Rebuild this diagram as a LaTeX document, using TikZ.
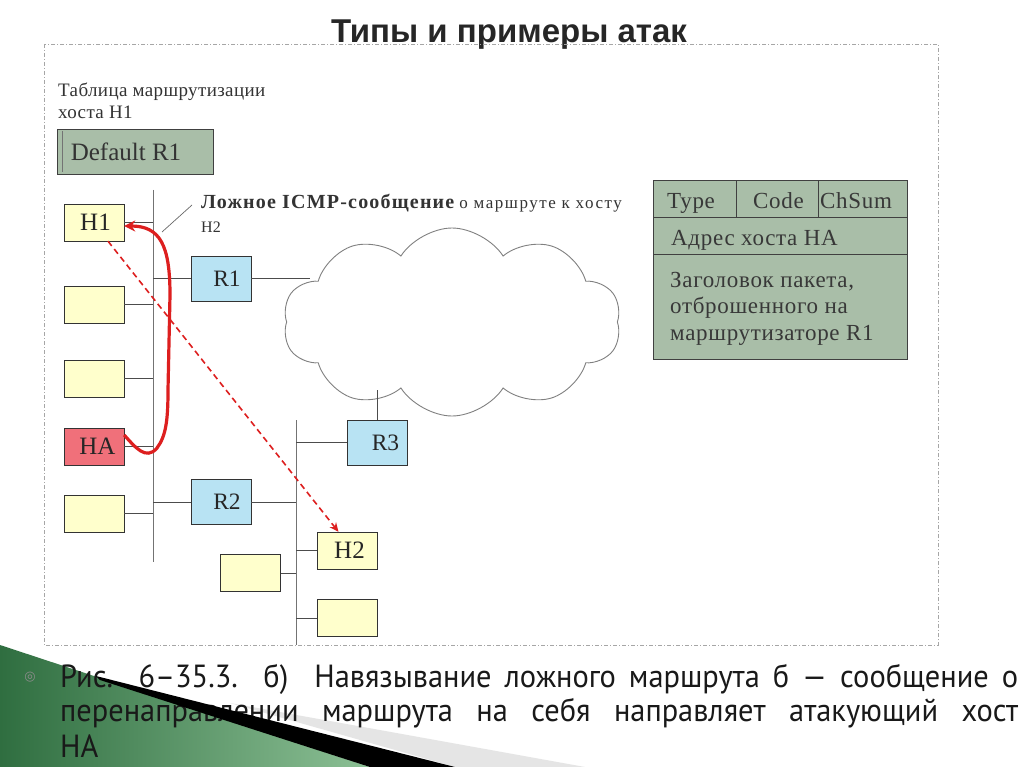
\documentclass[tikz,border=0pt]{standalone}
\usepackage{fontspec}
\setmainfont{Liberation Serif}
\newfontfamily\titlefont{Liberation Sans}
\newfontfamily\capfont[FakeStretch=0.95]{PT Sans}
\newfontfamily\symfont{DejaVu Sans}
\newfontfamily\serifA[LetterSpace=2]{Liberation Serif}
\newfontfamily\serifB[LetterSpace=3]{Liberation Serif}
\newfontfamily\serifC[LetterSpace=6]{Liberation Serif}
\newfontfamily\serifD[LetterSpace=9]{Liberation Serif}
\usetikzlibrary{shapes.symbols,arrows.meta}
\definecolor{hostyellow}{HTML}{FFFFCC}
\definecolor{routerblue}{HTML}{B8E3F3}
\definecolor{hared}{HTML}{F0707A}
\definecolor{tablegreen}{HTML}{A9BEA8}
\definecolor{arrowred}{HTML}{DD1F1F}
\definecolor{greendark}{HTML}{2F6E40}
\definecolor{greenlight}{HTML}{8CC095}
\tikzset{
  host/.style={draw=black!80, fill=hostyellow, minimum width=60pt, minimum height=37pt, inner sep=0pt, font=\fontsize{25}{25}\selectfont, text=black!85},
  router/.style={draw=black!80, fill=routerblue, minimum width=60pt, minimum height=45pt, inner sep=0pt, font=\fontsize{23.5}{23.5}\selectfont, text=black!85},
  link/.style={draw=black!70, line width=0.9pt},
  bus/.style={draw=black!55, line width=1pt},
  cell/.style={draw=black!75, fill=tablegreen, inner sep=0pt},
  celltext/.style={anchor=base west, inner sep=0pt, align=left, font=\serifB\fontsize{23}{26.5}\selectfont, text=black!78},
  frame/.style={draw=black!35, line width=0.8pt, dash pattern=on 4pt off 2pt on 1pt off 2pt},
  redcurve/.style={draw=arrowred, line width=3.2pt, -{Stealth[length=11pt,width=11pt]}},
  reddash/.style={draw=arrowred, line width=1.6pt, dash pattern=on 6pt off 4pt, -{Stealth[length=9pt,width=8pt]}},
  captext/.style={anchor=base west, inner sep=0pt, font=\capfont\fontsize{32}{32}\selectfont, text=black!90}
}
\begin{document}
\begin{tikzpicture}[x=1pt,y=-1pt]
\useasboundingbox (0,0) rectangle (1024,767);
\fill[white] (0,0) rectangle (1024,767);

% title
\node[font=\titlefont\bfseries\fontsize{33}{33}\selectfont, text=black!85, inner sep=0pt] (title) at (509,35) {Типы и примеры атак};

% frame
\draw[frame] (44,44) rectangle (938,645);

% routing table label (base = baseline of last line)
\node[anchor=base west, align=left, inner sep=0pt, font=\serifA\fontsize{19}{22}\selectfont, text=black!80] (tablabel) at (58,119) {Таблица маршрутизации\\хоста H1};
\node[draw=black!75, fill=tablegreen, minimum width=156pt, minimum height=45pt, inner sep=0pt, font=\fontsize{25}{25}\selectfont, text=black!80] (deflt) at (135,151.5) {Default R1\hspace*{18pt}};
\draw[black!55, line width=0.6pt] ([xshift=5pt,yshift=-2pt]deflt.north west) -- ([xshift=5pt,yshift=2pt]deflt.south west);

% cloud
\node[cloud, draw=black!50, line width=0.9pt, fill=white, cloud puffs=10, cloud puff arc=115, aspect=1.8, minimum width=338pt, minimum height=188pt, inner sep=0pt] (cloud) at (452,322) {};

% buses
\coordinate (b1top) at (153,190);
\coordinate (b1bot) at (153,562);
\coordinate (b2top) at (296,420);
\coordinate (b2bot) at (296,645);
\draw[bus] (b1top) -- (b1bot);
\draw[bus] (b2top) -- (b2bot);

% hosts
\node[host] (H1) at (94,222.5) {\hspace*{3pt}H1};
\node[host] (B2) at (94,304.5) {};
\node[host] (B3) at (94,378.5) {};
\node[host, fill=hared] (HA) at (94,446.5) {\hspace*{7pt}HA};
\node[host] (B5) at (94,513.5) {};
\node[host] (H2) at (347.5,550.5) {\hspace*{4pt}H2};
\node[host] (B6) at (250.5,573) {};
\node[host] (B7) at (347.5,618) {};

% routers
\node[router] (R1) at (221,278.5) {\hspace*{12pt}R1};
\node[router] (R2) at (221,502) {\hspace*{12pt}R2};
\node[router] (R3) at (377.5,442.5) {\hspace*{16pt}R3};

% connectors
\draw[link] (H1.east) -- (H1.east -| b1top);
\draw[link] (B2.east) -- (B2.east -| b1top);
\draw[link] (B3.east) -- (B3.east -| b1top);
\draw[link] (HA.east) -- (HA.east -| b1top);
\draw[link] (B5.east) -- (B5.east -| b1top);
\draw[link] (R1.west -| b1top) -- (R1.west);
\draw[link] (R2.west -| b1top) -- (R2.west);
\draw[link] (R2.east) -- (R2.east -| b2top);
\draw[link] (R3.west -| b2top) -- (R3.west);
\draw[link] (H2.west -| b2top) -- (H2.west);
\draw[link] (B6.east) -- (B6.east -| b2top);
\draw[link] (B7.west -| b2top) -- (B7.west);
\coordinate (cl1) at (310,278.5);
\coordinate (cl2) at (378,390);
\draw[link] (R1.east) -- (cl1);
\draw[link] (R3.north) -- (R3.north |- cl2);

% ICMP label
\node[anchor=base west, align=left, inner sep=0pt, text=black!80, font=\fontsize{16}{24}\selectfont] (icmp) at (201,233) {{\serifC\bfseries\fontsize{20}{24}\selectfont Ложное ICMP-сообщение}\hspace{5pt}{\serifD\fontsize{17}{24}\selectfont о маршруте к хосту}\\H2};
\coordinate (lead1) at (162,232);
\coordinate (lead2) at (192,205);
\draw[black!60, line width=0.7pt] (lead1) -- (lead2);

% red arrows
\draw[redcurve] ([yshift=11.5pt]HA.east) .. controls (135,447) and (146,461) .. (157,448)
  .. controls (166,436) and (168,420) .. (168,390) -- (170,295)
  .. controls (170,245) and (160,226) .. ([yshift=-3.5pt]H1.east);
\draw[reddash] ([xshift=14pt]H1.south) -- ([xshift=-9pt]H2.north);

% ICMP packet table
\node[cell, minimum width=83pt, minimum height=37pt] (ctype) at (694.5,198.5) {};
\node[cell, minimum width=82pt, minimum height=37pt] (ccode) at (777,198.5) {};
\node[cell, minimum width=89pt, minimum height=37pt] (csum) at (862.5,198.5) {};
\node[cell, minimum width=254pt, minimum height=37pt] (caddr) at (780,235.5) {};
\node[cell, minimum width=254pt, minimum height=105pt] (chead) at (780,306.5) {};
\node[celltext] (ttype) at (667,209) {Type};
\node[celltext] (tcode) at (753,209) {Code};
\node[celltext] (tsum) at (820,209) {ChSum};
\node[celltext] (taddr) at (671,245) {Адрес хоста НА};
\node[celltext] (thead) at (670,340) {Заголовок пакета,\\отброшенного на\\маршрутизаторе R1};

% bottom decoration
\shade[left color=greendark, right color=greenlight] (0,645) -- (100,678) -- (370,767) -- (0,767) -- cycle;
\fill[black!10] (230,703) -- (585,767) -- (455,767) -- cycle;

% caption
\node[text=black!45, font=\symfont\fontsize{13}{13}\selectfont, inner sep=0pt] (bullet) at (30,677) {◎};
\node[captext] (cap1) at (60,687) {\makebox[958pt][s]{Рис. 6–35.3. б)\ \ Навязывание ложного маршрута б — сообщение о}};
\node[captext] (cap2) at (60,721) {\makebox[958pt][s]{перенаправлении маршрута на себя направляет атакующий хост}};
\node[captext] (cap3) at (60,757) {НА};

\fill[black] (96,676) -- (455,767) -- (370,767) -- (100,680) -- cycle;
\end{tikzpicture}
\end{document}
